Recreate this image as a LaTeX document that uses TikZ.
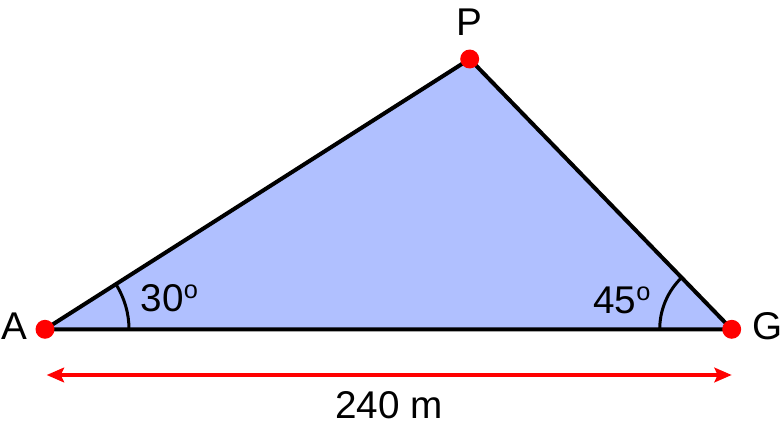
\documentclass[tikz,border=0pt]{standalone}
\usepackage{fontspec}
\setmainfont{Liberation Sans}
\usetikzlibrary{positioning, angles, arrows.meta}
\definecolor{triblue}{RGB}{176,192,255}
\definecolor{dotred}{RGB}{255,0,0}
\newcommand{\dego}{\raisebox{0.32em}{\fontsize{19}{20}\selectfont o}}

\begin{document}
\begin{tikzpicture}[x=0.75pt, y=-0.75pt, >={Stealth[length=13pt,width=11pt,inset=2.5pt]}]
  \tikzstyle{side} = [draw, line width=3pt, line join=round, fill=triblue]
  \tikzstyle{dot} = [circle, fill=dotred, inner sep=0pt, minimum size=14.2pt]
  \tikzstyle{lbl} = [inner sep=0pt, font=\fontsize{29}{34}\selectfont]
  \tikzstyle{arc} = [draw, line width=2.25pt]
  \tikzstyle{dim} = [<->, draw=dotred, line width=2.6pt]
  \useasboundingbox (0,0) rectangle (784,434);
  \coordinate (A) at (45,329.3);
  \coordinate (G) at (731.7,329.3);
  \coordinate (P) at (469.7,59);
  \coordinate (dimA) at (46.7,375);
  \coordinate (dimG) at (731.7,375);

  \path [side] (A) -- (P) -- (G) -- cycle;
  \pic [arc, angle radius=63pt] {angle=G--A--P};
  \pic [arc, angle radius=54pt] {angle=P--G--A};

  \node [dot] (dotA) at (A) {};
  \node [dot] (dotG) at (G) {};
  \node [dot] (dotP) at (P) {};

  \node [lbl, left=6pt of dotA, yshift=2.5pt] (labA) {A};
  \node [lbl, right=8.2pt of dotG, yshift=2.5pt] (labG) {G};
  \node [lbl, above=10pt of dotP] (labP) {P};
  \node [lbl, anchor=base west] (angA) at (140.5,311) {30\dego};
  \node [lbl, anchor=base west] (angG) at (593,313) {45\dego};

  \draw [dim] (dimA) -- (dimG);
  \node [lbl, anchor=base] (len) at (389,418) {240 m};
\end{tikzpicture}
\end{document}
